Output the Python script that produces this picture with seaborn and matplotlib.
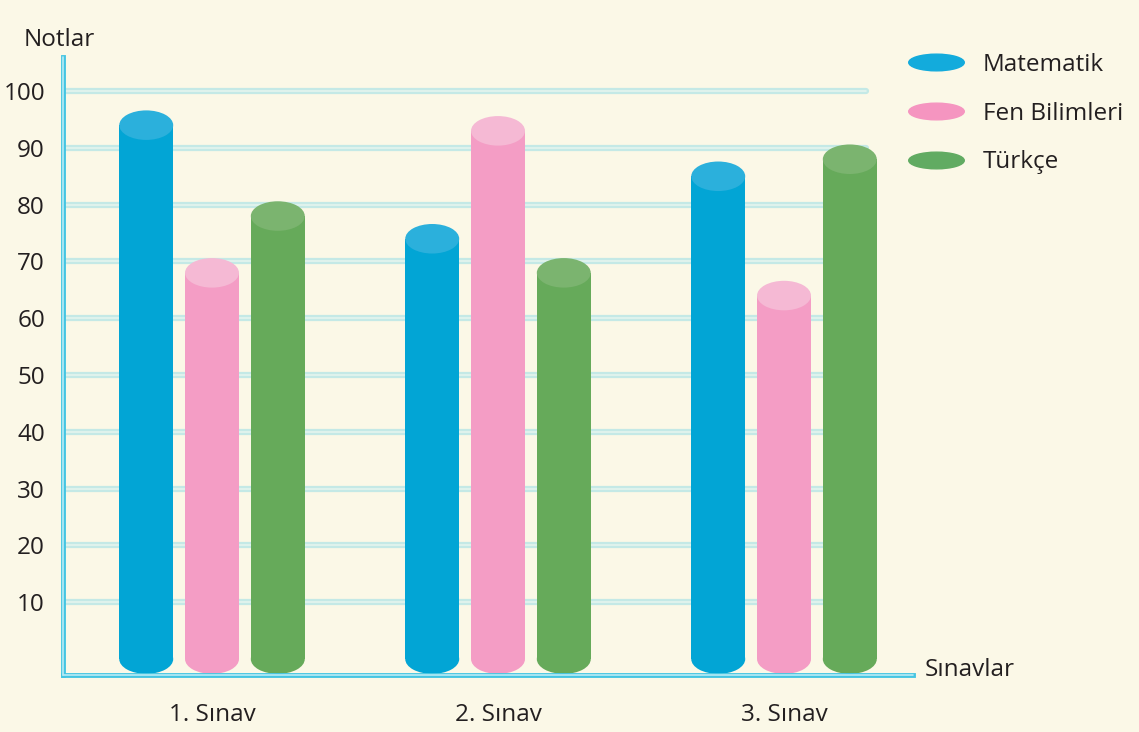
import pandas as pd
import matplotlib
matplotlib.use('Agg')
import matplotlib.pyplot as plt
from matplotlib.patches import Ellipse
from matplotlib.lines import Line2D
from matplotlib.path import Path
from matplotlib.transforms import Affine2D
import seaborn as sns

exams = ['1. Sınav', '2. Sınav', '3. Sınav']
subjects = ['Matematik', 'Fen Bilimleri', 'Türkçe']
matematik = [94, 74, 85]
fen = [68, 93, 64]
turkce = [78, 68, 88]
yticks = [10, 20, 30, 40, 50, 60, 70, 80, 90, 100]

body_colors = ['#02a5d5', '#f49dc5', '#66aa5a']
top_colors = ['#2bb0dc', '#f5b9d4', '#7bb46f']
legend_colors = ['#13abdc', '#f595c0', '#61ab62']
bg = '#fbf8e7'
axis_col = '#45c5e2'
text_col = '#231f20'
fs = 17.5

rows = []
for subj, vals in zip(subjects, [matematik, fen, turkce]):
    for ex, v in zip(exams, vals):
        rows.append({'Sınav': ex, 'Not': v, 'Ders': subj})
df = pd.DataFrame(rows)

sns.set_style('white')
plt.rcParams['font.family'] = ['Open Sans', 'DejaVu Sans']

fig = plt.figure(figsize=(11.39, 7.32), dpi=100, facecolor=bg)
ax = fig.add_axes([63 / 1139, 1 - 675 / 732, 850 / 1139, 618 / 732])
ax.set_facecolor(bg)

sns.barplot(data=df, x='Sınav', y='Not', hue='Ders', order=exams, hue_order=subjects,
            palette=body_colors, saturation=1, width=0.69, gap=0.18,
            legend=False, linewidth=0, ax=ax)

ax.set_xlim(-0.521, 2.451)
ax.set_ylim(-2.8, 106)

# cylinder caps
eh = 5.2
for cont, body, top in zip(ax.containers, body_colors, top_colors):
    for rect in cont:
        rect.set_zorder(3)
        cx = rect.get_x() + rect.get_width() / 2
        w = rect.get_width()
        h = rect.get_height()
        ax.add_patch(Ellipse((cx, 0), w, eh, facecolor=body, edgecolor='none', zorder=3))
        ax.add_patch(Ellipse((cx, h), w, eh, facecolor=top, edgecolor='none', zorder=4))

# grid lines
for y in yticks:
    ax.axhline(y, xmin=0, xmax=0.945, color='#c4e9e6', lw=4.5, zorder=1)
    ax.axhline(y, xmin=0, xmax=0.945, color='#e4f4ee', lw=1.2, zorder=1)

for s in ['top', 'right']:
    ax.spines[s].set_visible(False)
for s in ['left', 'bottom']:
    ax.spines[s].set_color(axis_col)
    ax.spines[s].set_linewidth(3.5)
    ax.spines[s].set_zorder(5)
ax.plot([0, 0], [0, 1], transform=ax.transAxes, color='#b8ebf5', lw=1.2, clip_on=False, zorder=6)
ax.plot([0, 1], [0, 0], transform=ax.transAxes, color='#b8ebf5', lw=1.2, clip_on=False, zorder=6)

ax.set_yticks(yticks)
ax.tick_params(axis='y', direction='inout', length=14, width=3.5, color=axis_col,
               labelsize=fs, labelcolor=text_col, pad=6)
ax.tick_params(axis='x', direction='out', length=7, width=3, color=axis_col,
               labelsize=fs, labelcolor=text_col, pad=13)

ax.set_ylabel('Notlar', rotation=0, ha='left', va='center', fontsize=fs, color=text_col)
ax.yaxis.set_label_coords(-0.046, 1.027)
ax.set_xlabel('Sınavlar', ha='left', va='center', fontsize=fs, color=text_col)
ax.xaxis.set_label_coords(1.014, 0.008)

# legend with flat disc markers
disc = Path.unit_circle().transformed(Affine2D().scale(1, 0.3))
handles = [Line2D([], [], marker=disc, markersize=40, color=c, linestyle='') for c in legend_colors]
fig.legend(handles, subjects, loc='upper left', bbox_to_anchor=(902 / 1139, 1 - 43 / 732),
           frameon=False, fontsize=fs, labelcolor=text_col, labelspacing=1.02,
           handletextpad=0.93, borderaxespad=0)

plt.savefig('out.png', dpi=100, facecolor=bg)
